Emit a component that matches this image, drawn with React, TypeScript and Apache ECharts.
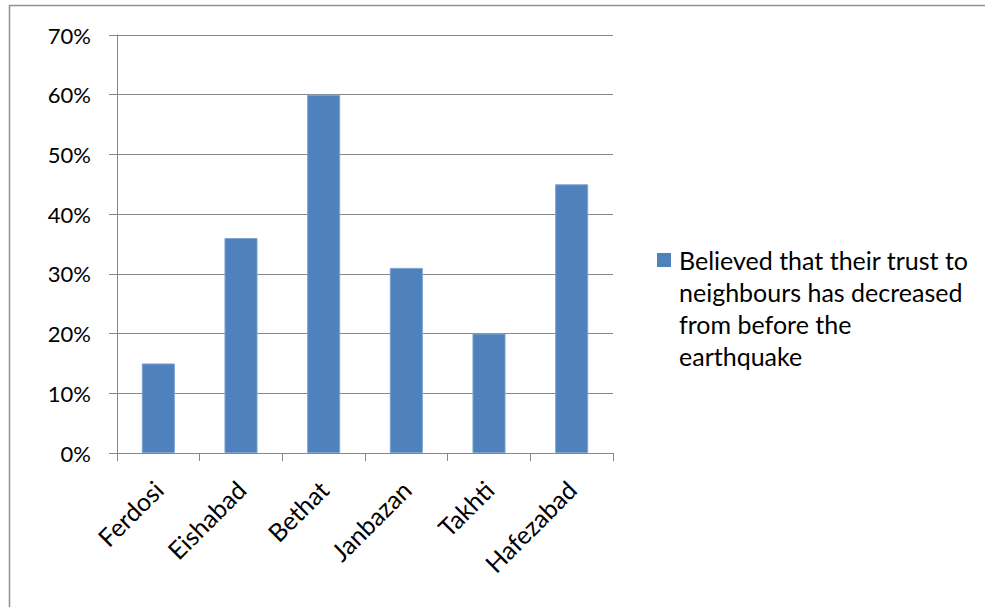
import React, { useEffect, useRef } from "react";
import * as echarts from "echarts";

const categories = ["Ferdosi", "Eishabad", "Bethat", "Janbazan", "Takhti", "Hafezabad"];
const values = [15, 36, 60, 31, 20, 45];
const seriesName = "Believed that their trust to neighbours has decreased from before the earthquake";
const legendLines = ["Believed that their trust to", "neighbours has decreased", "from before the", "earthquake"];

const FONT = "Lato";
const GRAY = "#878787";
const BLUE = "#4F81BD";

export default function App() {
  const ref = useRef<HTMLDivElement>(null);
  useEffect(() => {
    if (!ref.current) return;
    const chart = echarts.init(ref.current, undefined, { renderer: "svg" });
    chart.setOption({
      animation: false,
      backgroundColor: "#ffffff",
      textStyle: { fontFamily: FONT },
      grid: { left: 117, right: 372, top: 35, bottom: 154, containLabel: false },
      xAxis: {
        type: "category",
        data: categories,
        axisLine: { lineStyle: { color: GRAY, width: 1 } },
        axisTick: { show: true, length: 8, lineStyle: { color: GRAY } },
        axisLabel: { rotate: 45, margin: 32, fontSize: 25, color: "#000", fontFamily: FONT },
      },
      yAxis: {
        type: "value",
        min: 0,
        max: 70,
        interval: 10,
        axisLine: { show: true, lineStyle: { color: GRAY, width: 1 } },
        axisTick: { show: true, length: 8, lineStyle: { color: GRAY } },
        splitLine: { lineStyle: { color: GRAY, width: 1 } },
        axisLabel: { formatter: "{value}%", margin: 26, fontSize: 22, color: "#000", fontFamily: FONT },
      },
      series: [
        {
          name: seriesName,
          type: "bar",
          data: values,
          barWidth: "40%",
          itemStyle: { color: BLUE, borderColor: "#7EA3D3", borderWidth: 1 },
        },
      ],
      graphic: [
        {
          type: "rect",
          shape: { x: 9.5, y: 5.5, width: 1000, height: 700 },
          style: { fill: "none", stroke: "#8f8f8f", lineWidth: 1.5 },
          silent: true,
        },
        {
          type: "rect",
          shape: { x: 657, y: 253, width: 14, height: 14 },
          style: { fill: BLUE },
        },
        ...legendLines.map((t, i) => ({
          type: "text",
          x: 679,
          y: 260 + i * 32,
          style: {
            text: t,
            fontSize: 25,
            fontFamily: FONT,
            fill: "#000",
            verticalAlign: "middle",
            textAlign: "left",
          },
        })),
      ],
    });
    return () => chart.dispose();
  }, []);
  return (
    <div
      ref={ref}
      style={{ position: "fixed", left: 0, top: 0, width: 985, height: 607 }}
    />
  );
}
